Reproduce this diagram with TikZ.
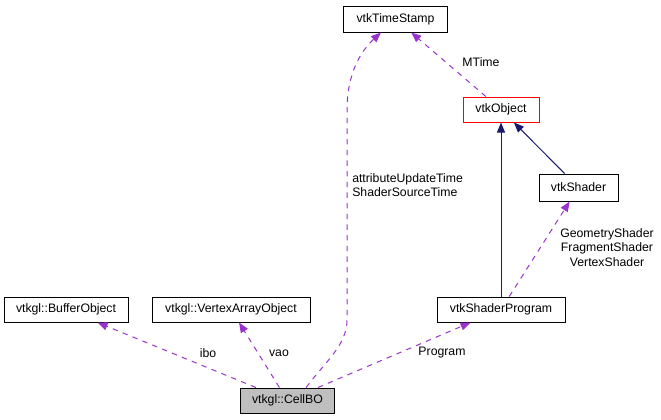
\documentclass[tikz,border=0pt]{standalone}
\usepackage{fontspec}
\setmainfont{Liberation Sans}
\usetikzlibrary{arrows.meta}
\definecolor{dpurple}{HTML}{9A32CD}
\definecolor{dnavy}{HTML}{191970}
\definecolor{dgrey}{HTML}{BFBFBF}
\tikzset{
  box/.style={draw=black, line width=0.75pt, inner sep=0pt, minimum height=19.5pt,
    font=\fontsize{9.2pt}{11pt}\selectfont},
  lbl/.style={inner sep=0pt, font=\fontsize{9.2pt}{10.9pt}\selectfont},
  uses/.style={draw=dpurple, line width=0.75pt, dash pattern=on 4pt off 4pt,
    -{Triangle[length=7.5pt,width=6pt,fill=dpurple]}},
  inherit/.style={draw=dnavy, line width=0.75pt,
    -{Triangle[length=7.5pt,width=6pt,fill=dnavy]}}
}
\begin{document}
\begin{tikzpicture}[x=0.75pt,y=-0.75pt]
\useasboundingbox (0,0) rectangle (661,419);
% nodes
\node[box, minimum width=78pt] (ts) at (395.5,19) {vtkTimeStamp};
\node[box, draw=red, minimum width=57pt, minimum height=18.75pt] (obj) at (501,109.5) {vtkObject};
\node[box, minimum width=59.25pt, minimum height=20.25pt] (sh) at (578.5,187.5) {vtkShader};
\node[box, minimum width=96pt, minimum height=18.75pt] (sp) at (501,309.5) {vtkShaderProgram};
\node[box, minimum width=93pt, minimum height=18.75pt] (bo) at (66,309.5) {vtkgl::BufferObject};
\node[box, minimum width=118.5pt, minimum height=18.75pt] (vao) at (231,309.5) {vtkgl::VertexArrayObject};
\node[box, fill=dgrey, minimum width=70pt, minimum height=18.75pt] (cell) at (287.5,400.5) {vtkgl::CellBO};
% edges
\draw[uses] (cell) -- (bo);
\draw[uses] (cell) -- (vao);
\draw[uses] (cell) -- (sp);
\draw[uses] ([xshift=14pt]cell.north) .. controls (325,362) and (347,345) .. (347,320)
  -- (347,110) .. controls (347,72) and (362,50) .. (ts);
\draw[uses] (obj) -- (ts);
\draw[uses] (sp) -- (sh);
\draw[inherit] (sp) -- (obj);
\draw[inherit] (sh) -- (obj);
% labels
\node[lbl] (libo) at (208,353) {ibo};
\node[lbl] (lvao) at (279,353) {vao};
\node[lbl] (lprog) at (442,353) {Program};
\node[lbl] (lmt) at (481,62) {MTime};
\node[lbl, anchor=north west, align=left] (lattr) at (352,173) {attributeUpdateTime\\ShaderSourceTime};
\node[lbl, align=center] (lgs) at (607,247.5) {GeometryShader\\FragmentShader\\VertexShader};
\end{tikzpicture}
\end{document}
